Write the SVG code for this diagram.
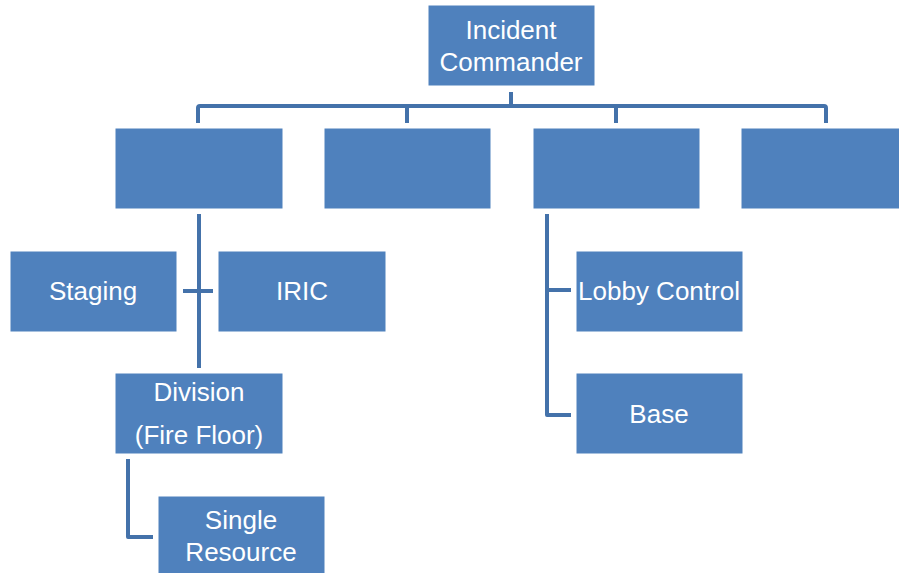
<svg xmlns="http://www.w3.org/2000/svg" width="899" height="573" viewBox="0 0 899 573">
<style>
.box{fill:#4F81BD;stroke:#ffffff;stroke-width:1}
.lbl{fill:#ffffff;font-family:"Liberation Sans",Arial,sans-serif;font-size:26px;text-anchor:middle}
.con{fill:none;stroke:#4472AA;stroke-width:4;stroke-linejoin:round}
</style>
<rect width="899" height="573" fill="#ffffff"/>
<g id="connectors">
<path class="con" d="M511,92 V106"/>
<path class="con" d="M198,123 V108 Q198,106 200,106 H824 Q826,106 826,108 V123"/>
<path class="con" d="M407,106 V123"/>
<path class="con" d="M616,106 V123"/>
<path class="con" d="M199,214 V368"/>
<path class="con" d="M183,291 H213"/>
<path class="con" d="M128,459 V537 H153"/>
<path class="con" d="M547,214 V415 H571"/>
<path class="con" d="M547,290 H571"/>
</g>
<g id="incident-commander">
<rect class="box" x="428" y="5" width="167" height="81"/>
<text class="lbl" x="511" y="39">Incident</text>
<text class="lbl" x="511" y="71">Commander</text>
</g>
<g id="section-1"><rect class="box" x="115" y="128" width="168" height="81"/></g>
<g id="section-2"><rect class="box" x="324" y="128" width="167" height="81"/></g>
<g id="section-3"><rect class="box" x="533" y="128" width="167" height="81"/></g>
<g id="section-4"><rect class="box" x="741" y="128" width="168" height="81"/></g>
<g id="staging">
<rect class="box" x="10" y="251" width="167" height="81"/>
<text class="lbl" x="93" y="300">Staging</text>
</g>
<g id="iric">
<rect class="box" x="218" y="251" width="168" height="81"/>
<text class="lbl" x="302" y="300">IRIC</text>
</g>
<g id="division">
<rect class="box" x="115" y="373" width="168" height="81"/>
<text class="lbl" x="199" y="401">Division</text>
<text class="lbl" x="199" y="444">(Fire Floor)</text>
</g>
<g id="single-resource">
<rect class="box" x="158" y="496" width="167" height="81"/>
<text class="lbl" x="241" y="529">Single</text>
<text class="lbl" x="241" y="561">Resource</text>
</g>
<g id="lobby-control">
<rect class="box" x="576" y="251" width="167" height="81"/>
<text class="lbl" x="659" y="300">Lobby Control</text>
</g>
<g id="base">
<rect class="box" x="576" y="373" width="167" height="81"/>
<text class="lbl" x="659" y="423">Base</text>
</g>
</svg>
